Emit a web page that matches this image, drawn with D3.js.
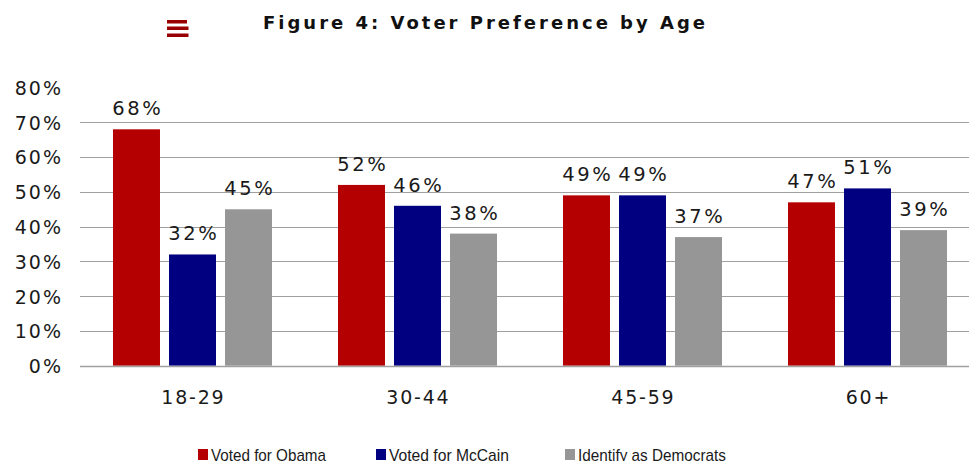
<!DOCTYPE html>
<html>
<head>
<meta charset="utf-8">
<script src="https://cdn.jsdelivr.net/npm/d3@7"></script>
<style>
  html, body { margin: 0; padding: 0; background: #fff; }
  svg { display: block; }
</style>
</head>
<body>
<svg id="chart" width="969" height="461"></svg>
<script>
// Age groups and the three measured shares per group
const categories = ["18-29", "30-44", "45-59", "60+"];
const seriesNames = ["Voted for Obama", "Voted for McCain", "Identify as Democrats"];
const obama = [0.68, 0.52, 0.49, 0.47];
const mccain = [0.32, 0.46, 0.49, 0.51];
const democrats = [0.45, 0.38, 0.37, 0.39];
const yTicks = [0, 0.1, 0.2, 0.3, 0.4, 0.5, 0.6, 0.7, 0.8];
const colors = ["#b40000", "#000080", "#969696"];

const seriesValues = [obama, mccain, democrats];
const rows = categories.map((c, i) => ({
  category: c,
  values: seriesNames.map((s, j) => ({ series: s, value: seriesValues[j][i], color: colors[j] }))
}));

const svg = d3.select("#chart");
const textColor = "#1a1a1a";
const font = "DejaVu Sans, Verdana, sans-serif";
const pct = d3.format(".0%");

const x0 = d3.scaleBand().domain(categories).range([80, 980]).padding(0);
const x1 = d3.scaleBand().domain(seriesNames).range([0, x0.bandwidth()])
  .paddingInner(0.161).paddingOuter(0.589);
const y = d3.scaleLinear().domain([0, 0.8]).range([365.7, 87.6]);

// Horizontal gridlines
svg.append("g")
  .selectAll("line")
  .data(yTicks.filter(t => t > 0 && t < 0.8))
  .join("line")
  .attr("x1", 80).attr("x2", 980)
  .attr("y1", d => Math.round(y(d)) + 0.5).attr("y2", d => Math.round(y(d)) + 0.5)
  .attr("stroke", "#a0a0a0").attr("stroke-width", 1);

// Y axis labels
const yLs = 2;
const yAxis = d3.axisLeft(y).tickValues(yTicks).tickFormat(pct).tickSize(0).tickPadding(0);
const yg = svg.append("g").attr("transform", `translate(${61 + yLs},0)`).call(yAxis);
yg.select(".domain").remove();
yg.selectAll("text")
  .attr("font-family", font)
  .attr("font-size", 19)
  .attr("letter-spacing", yLs)
  .attr("fill", textColor)
  .attr("dy", "0.36em");

// Bars
const groups = svg.append("g")
  .selectAll("g")
  .data(rows)
  .join("g")
  .attr("transform", d => `translate(${x0(d.category)},0)`);

groups.selectAll("rect")
  .data(d => d.values)
  .join("rect")
  .attr("x", d => x1(d.series))
  .attr("width", x1.bandwidth())
  .attr("y", d => y(d.value))
  .attr("height", d => y(0) - y(d.value))
  .attr("fill", d => d.color);

// Value labels
const vLs = 2.5;
groups.selectAll("text")
  .data(d => d.values)
  .join("text")
  .attr("x", d => x1(d.series) + x1.bandwidth() / 2 + vLs / 2)
  .attr("y", d => y(d.value) - 14)
  .attr("text-anchor", "middle")
  .attr("font-family", font)
  .attr("font-size", 19.5)
  .attr("letter-spacing", vLs)
  .attr("fill", textColor)
  .text(d => pct(d.value));

// Baseline
svg.append("line")
  .attr("x1", 80).attr("x2", 980)
  .attr("y1", Math.round(y(0)) + 0.5).attr("y2", Math.round(y(0)) + 0.5)
  .attr("stroke", "#a0a0a0").attr("stroke-width", 1.5);

// Category axis
const cLs = 1.8;
const xAxis = d3.axisBottom(x0).tickSize(0).tickPadding(0);
const xg = svg.append("g").attr("transform", `translate(${cLs / 2},404)`).call(xAxis);
xg.select(".domain").remove();
xg.selectAll("text")
  .attr("font-family", font)
  .attr("font-size", 19)
  .attr("letter-spacing", cLs)
  .attr("fill", textColor)
  .attr("dy", 0)
  .attr("y", 0);

// Title and menu icon
const tLs = 3;
svg.append("text")
  .attr("x", 484 + tLs / 2).attr("y", 29)
  .attr("text-anchor", "middle")
  .attr("font-family", font)
  .attr("font-weight", "bold")
  .attr("font-size", 18)
  .attr("letter-spacing", tLs)
  .attr("fill", "#111")
  .text("Figure 4: Voter Preference by Age");

const menu = svg.append("g").attr("fill", "#990000");
[[20, 20, 3.5], [26.5, 21.5, 3.5], [33.5, 21.5, 3.5]].forEach(([yy, w, h]) => {
  menu.append("rect").attr("x", 167).attr("y", yy).attr("width", w).attr("height", h);
});

// Legend
const legendX = [198, 376, 565];
const legendTextWidth = [115, 120, 148];
const legend = svg.append("g")
  .selectAll("g")
  .data(seriesNames)
  .join("g")
  .attr("transform", (d, i) => `translate(${legendX[i]},449)`);
legend.append("rect").attr("width", 10).attr("height", 11).attr("fill", (d, i) => colors[i]);
legend.append("text")
  .attr("x", 13).attr("y", 11.5)
  .attr("font-family", "Liberation Sans, Arial, sans-serif")
  .attr("font-size", 17)
  .attr("textLength", (d, i) => legendTextWidth[i])
  .attr("lengthAdjust", "spacingAndGlyphs")
  .attr("fill", textColor)
  .text(d => d);
</script>
</body>
</html>
